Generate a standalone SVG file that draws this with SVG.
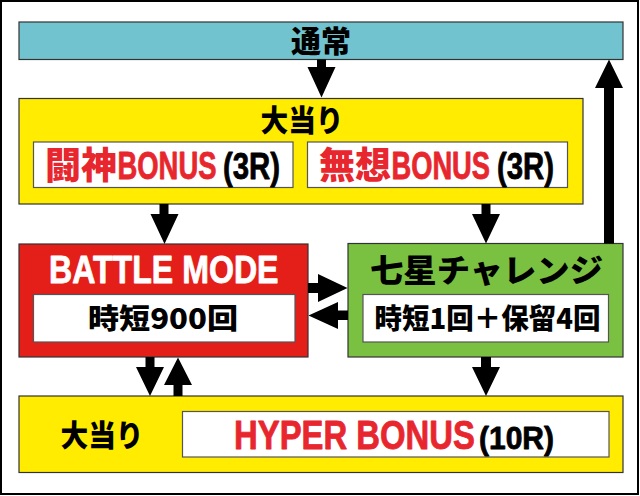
<svg xmlns="http://www.w3.org/2000/svg" width="640" height="496" viewBox="0 0 640 496">
<style>
.box{stroke:#333;stroke-width:1.2}
.inner{fill:#fff;stroke:#555;stroke-width:1.2}
.jp{font-family:"Noto Sans CJK JP","Noto Sans CJK SC",sans-serif;font-weight:900}
.lat{font-family:"Liberation Sans",Arial,sans-serif;font-weight:bold;stroke-width:0.8;stroke-linejoin:round}
.red{fill:#E8262E}
.lat.red{stroke:#E8262E}
.blk{fill:#000}
.lat.blk{stroke:#000}
.wht{fill:#fff}
.lat.wht{stroke:#fff}
.arr{fill:#000}
</style>
<rect x="1" y="1" width="637" height="493" fill="#fff" stroke="#000" stroke-width="2"/>
<g id="tsujo">
<rect class="box" x="19" y="22" width="604" height="37.5" fill="#71C4CF"/>
<text class="jp blk" x="291" y="51.5" font-size="30" textLength="60" lengthAdjust="spacingAndGlyphs">通常</text>
</g>
<g id="oatari1">
<rect class="box" x="19" y="98.5" width="564" height="105.5" fill="#FFEC00"/>
<text class="jp blk" x="260.5" y="130.5" font-size="30" textLength="83" lengthAdjust="spacingAndGlyphs">大当り</text>
<rect class="inner" x="33.5" y="142" width="259.5" height="45.5"/>
<text class="jp red" x="45" y="178.8" font-size="37" textLength="72" lengthAdjust="spacingAndGlyphs">闘神</text>
<text class="lat red" transform="translate(117.5,178.5) scale(0.7215,1)" x="0" y="0" font-size="38">BONUS</text>
<text class="lat blk" transform="translate(223,178.5) scale(0.793,1)" x="0" y="0" font-size="37">(3R)</text>
<rect class="inner" x="307.5" y="142" width="260" height="45.5"/>
<text class="jp red" x="319" y="178.8" font-size="37" textLength="72" lengthAdjust="spacingAndGlyphs">無想</text>
<text class="lat red" transform="translate(391.5,178.5) scale(0.718,1)" x="0" y="0" font-size="38">BONUS</text>
<text class="lat blk" transform="translate(497,178.5) scale(0.793,1)" x="0" y="0" font-size="37">(3R)</text>
</g>
<g id="battle">
<rect class="box" x="19" y="244" width="289" height="113" fill="#E41F19"/>
<text class="lat wht" transform="translate(49,283) scale(0.8455,1)" x="0" y="0" font-size="38">BATTLE MODE</text>
<rect class="inner" x="33.5" y="294.5" width="261.5" height="47.5"/>
<text class="jp blk" x="88" y="329" font-size="28" textLength="150" lengthAdjust="spacingAndGlyphs">時短900回</text>
</g>
<g id="shichisei">
<rect class="box" x="348" y="243.5" width="275" height="113.5" fill="#7AC142"/>
<text class="jp blk" x="370" y="282" font-size="32" textLength="233" lengthAdjust="spacingAndGlyphs">七星チャレンジ</text>
<rect class="inner" x="363" y="294.5" width="245.5" height="47.5"/>
<text class="jp blk" x="374.5" y="329" font-size="28" textLength="226" lengthAdjust="spacingAndGlyphs">時短1回＋保留4回</text>
</g>
<g id="oatari2">
<rect class="box" x="19" y="396" width="604" height="76.5" fill="#FFEC00"/>
<text class="jp blk" x="60.5" y="445.5" font-size="30" textLength="83" lengthAdjust="spacingAndGlyphs">大当り</text>
<rect class="inner" x="182.5" y="411.5" width="426.5" height="45.5"/>
<text class="lat red" transform="translate(234,449) scale(0.8215,1)" x="0" y="0" font-size="40">HYPER BONUS</text>
<text class="lat blk" transform="translate(479,449) scale(0.9375,1)" x="0" y="0" font-size="32">(10R)</text>
</g>
<g id="connectors">
<polygon class="arr" points="317,59.5 326,59.5 326,67 335.5,67 321.5,97.5 307.5,67 317,67"/>
<polygon class="arr" points="159.5,204 168.5,204 168.5,214 178.5,214 164.5,244 150.5,214 159.5,214"/>
<polygon class="arr" points="481.5,204 490.5,204 490.5,214 500,214 486,243.5 472,214 481.5,214"/>
<polygon class="arr" points="308,283 318,283 318,274 347.5,288 318,302 318,293 308,293"/>
<polygon class="arr" points="348,310.5 338,310.5 338,302 308.5,315.5 338,329 338,320 348,320"/>
<polygon class="arr" points="604,243.5 614,243.5 614,88 623,88 609,59.5 595,88 604,88"/>
<polygon class="arr" points="145.5,357 154.5,357 154.5,367 164,367 150,396 136,367 145.5,367"/>
<polygon class="arr" points="173.5,396 182.5,396 182.5,385 192,385 178,357.5 164,385 173.5,385"/>
<polygon class="arr" points="481,357 491,357 491,367 500,367 486,396 472,367 481,367"/>
</g>
</svg>
